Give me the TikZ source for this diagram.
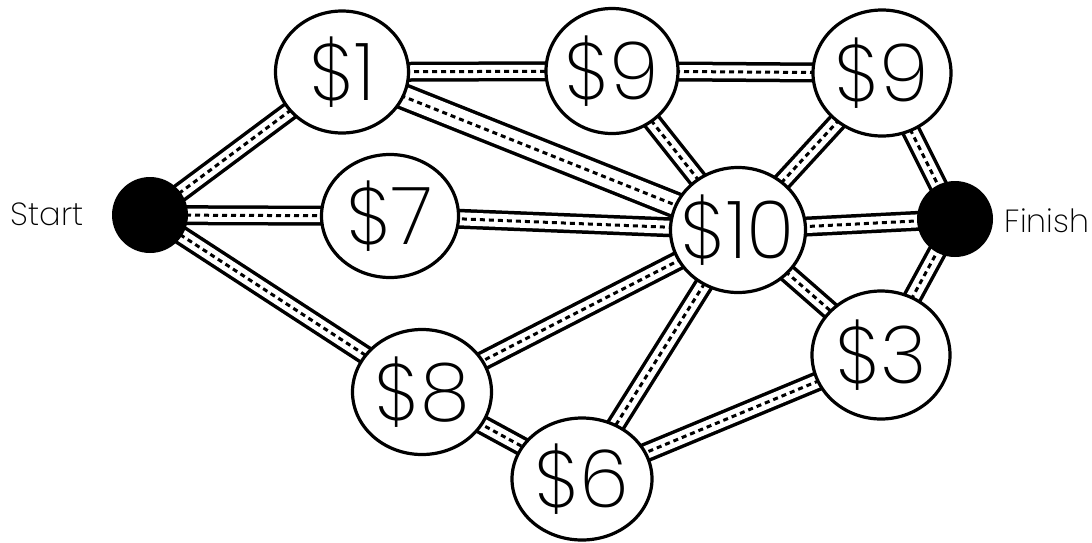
\documentclass[tikz,border=0pt]{standalone}
\usepackage{fontspec}
\newfontfamily\lab{Poppins ExtraLight}
\usetikzlibrary{shapes.geometric}
\pgfdeclarelayer{bg}
\pgfsetlayers{bg,main}
\begin{document}
\begin{tikzpicture}[x=1pt,y=-1pt,
  town/.style={ellipse,draw,line width=3.2pt,fill=white,inner sep=0pt},
  dot/.style={circle,fill=black,inner sep=0pt,minimum size=76pt},
  lbl/.style={font=\lab\fontsize{80}{84}\selectfont,inner sep=0pt},
  side/.style={font=\lab\fontsize{32}{36}\selectfont,inner sep=0pt},
  roadedge/.style={line width=20pt,black},
  roadfill/.style={line width=13pt,white},
  roadmid/.style={line width=3pt,black,dash pattern=on 5pt off 4pt},
  wideedge/.style={line width=27pt,black},
  widefill/.style={line width=20pt,white}]
\useasboundingbox (0,0) rectangle (1092,542);
\node[dot] (start) at (150,215) {};
\node[dot] (fin) at (955,219) {};
\node[town,minimum width=133pt,minimum height=122pt] (n1) at (342,72) {};
\node[town,minimum width=132pt,minimum height=125pt] (n9a) at (612,71) {};
\node[town,minimum width=138pt,minimum height=126pt] (n9b) at (882,73) {};
\node[town,minimum width=137pt,minimum height=123pt] (n7) at (390,216) {};
\node[town,minimum width=135pt,minimum height=125pt] (n10) at (738,230) {};
\node[town,minimum width=138pt,minimum height=128pt] (n3) at (881,355) {};
\node[town,minimum width=139pt,minimum height=125pt] (n8) at (422,392) {};
\node[town,minimum width=140pt,minimum height=122pt] (n6) at (582,479) {};
\node[lbl] (t1) at (n1) {\$1};
\node[lbl] (t9a) at (n9a) {\$9};
\node[lbl] (t9b) at (n9b) {\$9};
\node[lbl] (t7) at (n7) {\$7};
\node[lbl] (t10) at (n10) {\$10};
\node[lbl] (t3) at (n3) {\$3};
\node[lbl] (t8) at (n8) {\$8};
\node[lbl] (t6) at (n6) {\$6};
\node[side] (ts) at (47,214) {Start};
\node[side] (tf) at (1047,221) {Finish};
\begin{pgfonlayer}{bg}
\def\roads{start/n1,start/n7,start/n8,n1/n9a,n9a/n9b,n9a/n10,n9b/n10,n9b/fin,n7/n10,n10/fin,n10/n8,n10/n6,n10/n3,n3/fin,n8/n6,n6/n3}
\foreach \a/\b in \roads {\draw[roadedge] (\a.center) -- (\b.center);}
\draw[wideedge] (n1.center) -- (n10.center);
\foreach \a/\b in \roads {\draw[roadfill] (\a.center) -- (\b.center);}
\draw[widefill] (n1.center) -- (n10.center);
\foreach \a/\b in \roads {\draw[roadmid] (\a.center) -- (\b.center);}
\draw[roadmid] (n1.center) -- (n10.center);
\end{pgfonlayer}
\end{tikzpicture}
\end{document}
